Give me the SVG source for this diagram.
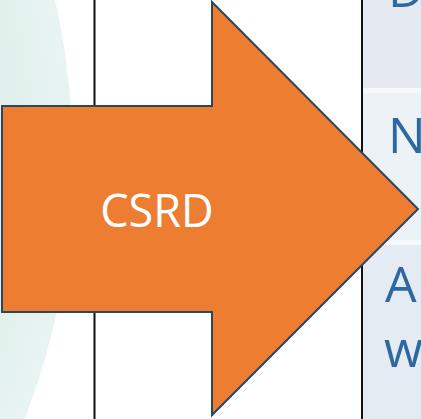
<svg xmlns="http://www.w3.org/2000/svg" width="421" height="419" viewBox="0 0 421 419">
  <defs>
    <radialGradient id="g" cx="-647" cy="160" r="720" gradientUnits="userSpaceOnUse">
      <stop offset="0.9" stop-color="#e0efeb"/>
      <stop offset="1" stop-color="#e8f4f1"/>
    </radialGradient>
  </defs>
  <style>
    .vline { stroke: #111111; stroke-width: 2; fill: none; }
    .cell-text { font-family: "Open Sans", "Liberation Sans", sans-serif; font-size: 50px; font-weight: 500; fill: #2d68a0; }
    .arrow { fill: #ed7d31; stroke: #2a4663; stroke-width: 2; stroke-linejoin: miter; }
    .label { font-family: "Open Sans", "Liberation Sans", sans-serif; font-size: 45px; fill: #ffffff; text-anchor: middle; }
  </style>
  <rect x="0" y="0" width="421" height="419" fill="#ffffff"/>
  <circle id="bg-circle" cx="-647" cy="160" r="720" fill="url(#g)"/>
  <g id="table">
    <rect x="363" y="0" width="58" height="88" fill="#e5eaf1"/>
    <rect x="363" y="88" width="58" height="5" fill="#f6f8fb"/>
    <rect x="363" y="93" width="58" height="147" fill="#edf2f7"/>
    <rect x="363" y="240" width="58" height="5" fill="#f6f8fb"/>
    <rect x="363" y="245" width="58" height="174" fill="#e4ebf3"/>
    <text class="cell-text" x="388" y="7">D</text>
    <text class="cell-text" x="388" y="153">N</text>
    <text class="cell-text" x="385" y="302">A</text>
    <text class="cell-text" x="384" y="367">w</text>
  </g>
  <g id="connectors">
    <line class="vline" x1="94.5" y1="0" x2="94.5" y2="419"/>
    <line class="vline" x1="362" y1="0" x2="362" y2="419"/>
  </g>
  <g id="csrd-arrow">
    <polygon class="arrow" points="2,106 212,106 212,2 418,209 212,415 212,312 2,312"/>
    <text class="label" x="157" y="227">CSRD</text>
  </g>
</svg>
